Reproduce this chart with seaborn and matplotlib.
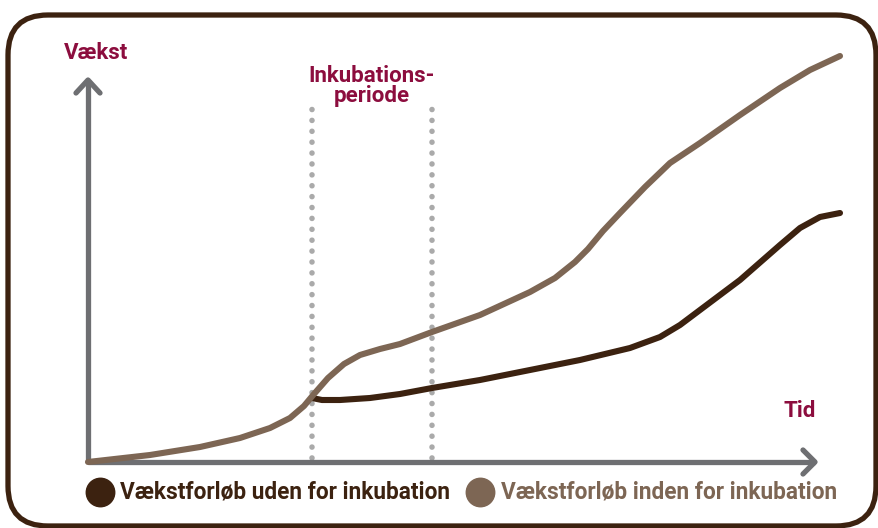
import numpy as np
import pandas as pd
import matplotlib.pyplot as plt
import seaborn as sns
from matplotlib.patches import FancyBboxPatch

# curve with incubation (light brown)
tid_inden = [0, 62, 112, 152, 182, 202, 216, 226, 240, 256, 272, 292, 312, 344, 392, 442, 467, 487,
             500, 515, 532, 557, 582, 612, 652, 692, 722, 752]
vaekst_inden = [0, 7, 15, 24, 34, 44, 56, 68, 84, 98, 107, 113, 118, 130, 147, 170, 184, 200,
                213, 231, 249, 275, 299, 319, 347, 374, 392, 406]

# curve without incubation (dark brown), starts at the first dotted line
tid_uden = [224, 234, 252, 282, 312, 344, 392, 442, 492, 542, 572, 592, 612, 652, 692, 712, 732, 752]
vaekst_uden = [64, 62, 62, 64, 68, 74, 82, 92, 102, 114, 125, 137, 152, 182, 217, 234, 245, 249]

inkubation_start = 224
inkubation_slut = 344

lys = "#7d6654"
moerk = "#3c2210"
graa = "#6e6f72"
roed = "#8c0d3e"

df_inden = pd.DataFrame({"Tid": tid_inden, "Vækst": vaekst_inden})
df_uden = pd.DataFrame({"Tid": tid_uden, "Vækst": vaekst_uden})

sns.set_style("white")
plt.rcParams["font.family"] = ["Roboto", "DejaVu Sans"]

fig = plt.figure(figsize=(8.79, 5.28), dpi=100)
ax = fig.add_axes([0, 0, 1, 1])
ax.set_xlim(-88, 791)
ax.set_ylim(-66, 462)
ax.axis("off")

# rounded frame
ramme = FancyBboxPatch((-80, -64), 868, 511, boxstyle="round,pad=0,rounding_size=40",
                       fill=False, edgecolor=moerk, linewidth=3.8, zorder=1)
ax.add_patch(ramme)

# dotted lines for the incubation period
for x in [inkubation_start, inkubation_slut]:
    ax.plot([x, x], [4, 362], color="#aaaaaa", linewidth=4.0,
            linestyle=(0, (0.01, 1.95)), dash_capstyle="round", zorder=2)

# axes with arrow heads
ax.plot([0, 0], [0, 382], color=graa, linewidth=3.8, solid_capstyle="butt", zorder=3)
ax.plot([-12, 0, 12], [369, 382, 369], color=graa, linewidth=3.8, zorder=3)
ax.plot([0, 727], [0, 0], color=graa, linewidth=3.8, solid_capstyle="butt", zorder=3)
ax.plot([715, 727, 715], [12, 0, -12], color=graa, linewidth=3.8, zorder=3)

sns.lineplot(data=df_uden, x="Tid", y="Vækst", sort=False, color=moerk, linewidth=4.4,
             ax=ax, zorder=4, solid_capstyle="round", solid_joinstyle="round")
sns.lineplot(data=df_inden, x="Tid", y="Vækst", sort=False, color=lys, linewidth=4.4,
             ax=ax, zorder=5, solid_capstyle="round", solid_joinstyle="round")
ax.set_xlabel("")
ax.set_ylabel("")

# labels
ax.text(8, 409, "Vækst", color=roed, fontsize=16, fontweight="bold", ha="center", va="center")
ax.text(284, 376, "Inkubations-\nperiode", color=roed, fontsize=16, fontweight="bold",
        ha="center", va="center", linespacing=0.9)
ax.text(712, 51, "Tid", color=roed, fontsize=16, fontweight="bold", ha="center", va="center")

# legend
ax.scatter([12], [-30], s=420, color=moerk, zorder=6)
ax.text(32, -30, "Vækstforløb uden for inkubation", color=moerk, fontsize=16.3,
        fontweight="bold", ha="left", va="center")
ax.scatter([392], [-30], s=420, color=lys, zorder=6)
ax.text(413, -30, "Vækstforløb inden for inkubation", color=lys, fontsize=16.3,
        fontweight="bold", ha="left", va="center")

fig.savefig("out.png", dpi=100)
